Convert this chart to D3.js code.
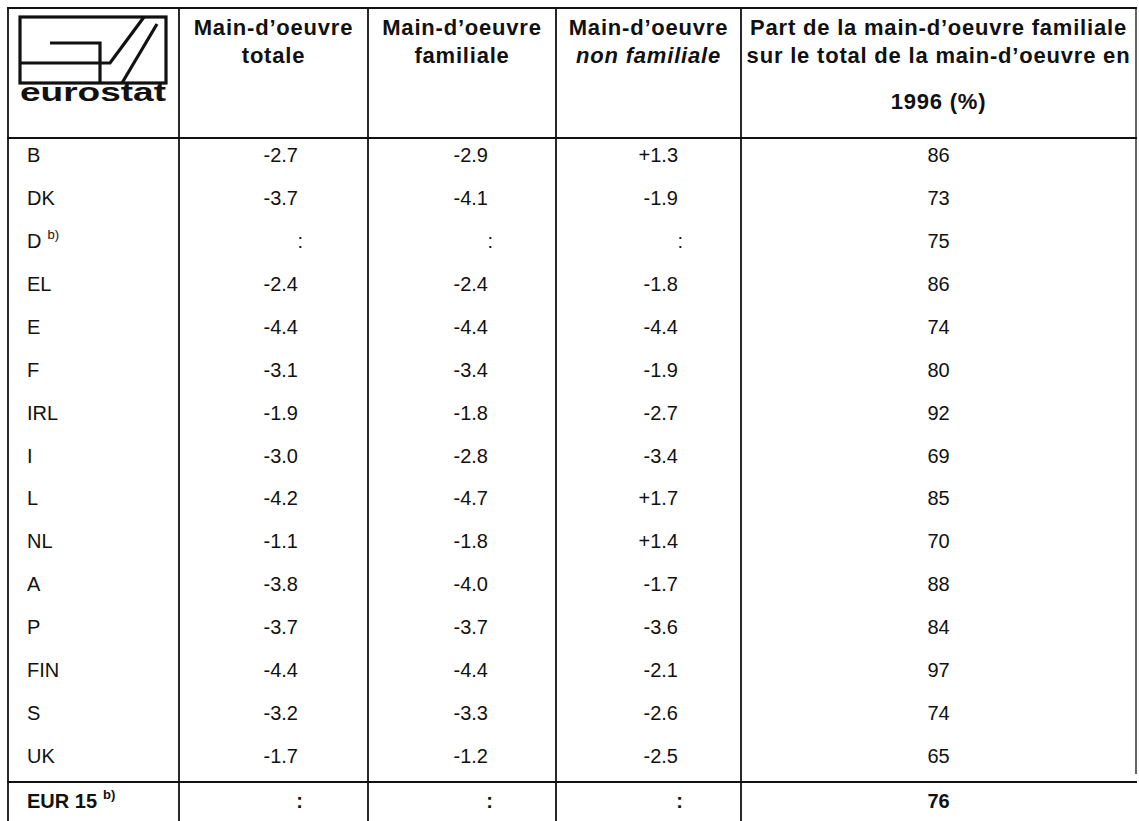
<!DOCTYPE html>
<html><head><meta charset="utf-8">
<script src="https://cdn.jsdelivr.net/npm/d3@7"></script>
<style>
html,body{margin:0;padding:0;background:#fff;}
svg{display:block;font-family:"Liberation Sans",Arial,sans-serif;}
</style></head>
<body>
<svg id="chart" width="1139" height="821"></svg>
<script>
// ---- data ----
const countries = ["B","DK","D","EL","E","F","IRL","I","L","NL","A","P","FIN","S","UK","EUR 15"];
const footnoteB = ["D","EUR 15"];
const totale = [-2.7,-3.7,null,-2.4,-4.4,-3.1,-1.9,-3.0,-4.2,-1.1,-3.8,-3.7,-4.4,-3.2,-1.7,null];
const familiale = [-2.9,-4.1,null,-2.4,-4.4,-3.4,-1.8,-2.8,-4.7,-1.8,-4.0,-3.7,-4.4,-3.3,-1.2,null];
const nonFamiliale = [1.3,-1.9,null,-1.8,-4.4,-1.9,-2.7,-3.4,1.7,1.4,-1.7,-3.6,-2.1,-2.6,-2.5,null];
const partFamiliale = [86,73,75,86,74,80,92,69,85,70,88,84,97,74,65,76];
const headers = [
  [],
  [{t:"Main-d\u2019oeuvre"},{t:"totale"}],
  [{t:"Main-d\u2019oeuvre"},{t:"familiale"}],
  [{t:"Main-d\u2019oeuvre"},{t:"non familiale",italic:true}],
  [{t:"Part de la main-d\u2019oeuvre familiale"},{t:"sur le total de la main-d\u2019oeuvre en"},{t:"1996 (%)"}]
];

// ---- layout ----
const svg = d3.select("#chart");
const colEdges = [8,179,368,556,741,1136];
const topY = 8, headBottom = 138, rowH = (782-138)/15;
const headBase = [35, 63, 109];
const y = d3.scaleBand().domain(countries).range([headBottom, headBottom + rowH*countries.length]);
const lineCol = "#111";
const fmt = v => v === null ? ":" : (v > 0 ? "+" : "") + v.toFixed(1);

const g = svg.append("g");
// horizontal lines
const hl = [topY, headBottom, y("EUR 15")];
g.selectAll("line.h").data(hl).join("line")
  .attr("x1", colEdges[0]-1).attr("x2", colEdges[5]+1)
  .attr("y1", d=>d).attr("y2", d=>d)
  .attr("stroke", lineCol).attr("stroke-width", 1.8);
// vertical lines
g.selectAll("line.v").data(colEdges).join("line")
  .attr("x1", d=>d).attr("x2", d=>d)
  .attr("y1", topY).attr("y2", (d,i)=> i===5 ? y("EUR 15") - 8 : 830)
  .attr("stroke", lineCol).attr("stroke-width", (d,i)=> i===5 ? 1.3 : 1.8);

// header text
headers.forEach((lines, ci) => {
  const cx = (colEdges[ci] + colEdges[ci+1]) / 2;
  lines.forEach((ln, li) => {
    g.append("text").attr("x", cx).attr("y", headBase[li])
      .attr("text-anchor","middle").attr("font-weight","bold")
      .attr("font-style", ln.italic ? "italic" : "normal")
      .attr("letter-spacing", 0.8)
      .attr("font-size", 22).attr("fill","#111").text(ln.t);
  });
});

// logo
const logo = g.append("g").attr("stroke","#111").attr("fill","none").attr("stroke-width",3.2);
logo.append("rect").attr("x",20).attr("y",17).attr("width",146).attr("height",66);
logo.append("polyline").attr("points","50,43 100,43 100,83");
logo.append("polyline").attr("points","20,63 110,63 144,17");
logo.append("line").attr("x1",122).attr("y1",83).attr("x2",157).attr("y2",24);
g.append("text").attr("x",20).attr("y",101).attr("font-size",25).attr("font-weight","bold")
  .attr("textLength",146).attr("lengthAdjust","spacingAndGlyphs").attr("fill","#111").text("eurostat");

// rows
const rows = countries.map((c,i)=>({c, t:totale[i], f:familiale[i], n:nonFamiliale[i], p:partFamiliale[i], bold:c==="EUR 15"}));
const rg = g.selectAll("g.row").data(rows).join("g")
  .attr("transform", d=>`translate(0,${y(d.c) + (d.bold?26:24)})`)
  .attr("font-size",20).attr("fill","#111")
  .attr("font-weight", d=> d.bold ? "bold" : "normal");

const lab = rg.append("text").attr("x", 27);
lab.append("tspan").text(d=>d.c);
lab.filter(d=>footnoteB.includes(d.c)).append("tspan")
  .attr("font-size",13).attr("dx",6).attr("dy",-9).text("b)");

const numCols = [["t",298],["f",488],["n",678]];
numCols.forEach(([k,xr]) => {
  rg.append("text").attr("x", xr).attr("text-anchor","end")
    .attr("dx", d=> d[k]===null ? 5 : 0)
    .text(d=>fmt(d[k]));
});
rg.append("text").attr("x", (colEdges[4]+colEdges[5])/2).attr("text-anchor","middle").text(d=>d.p);
</script>
</body></html>
